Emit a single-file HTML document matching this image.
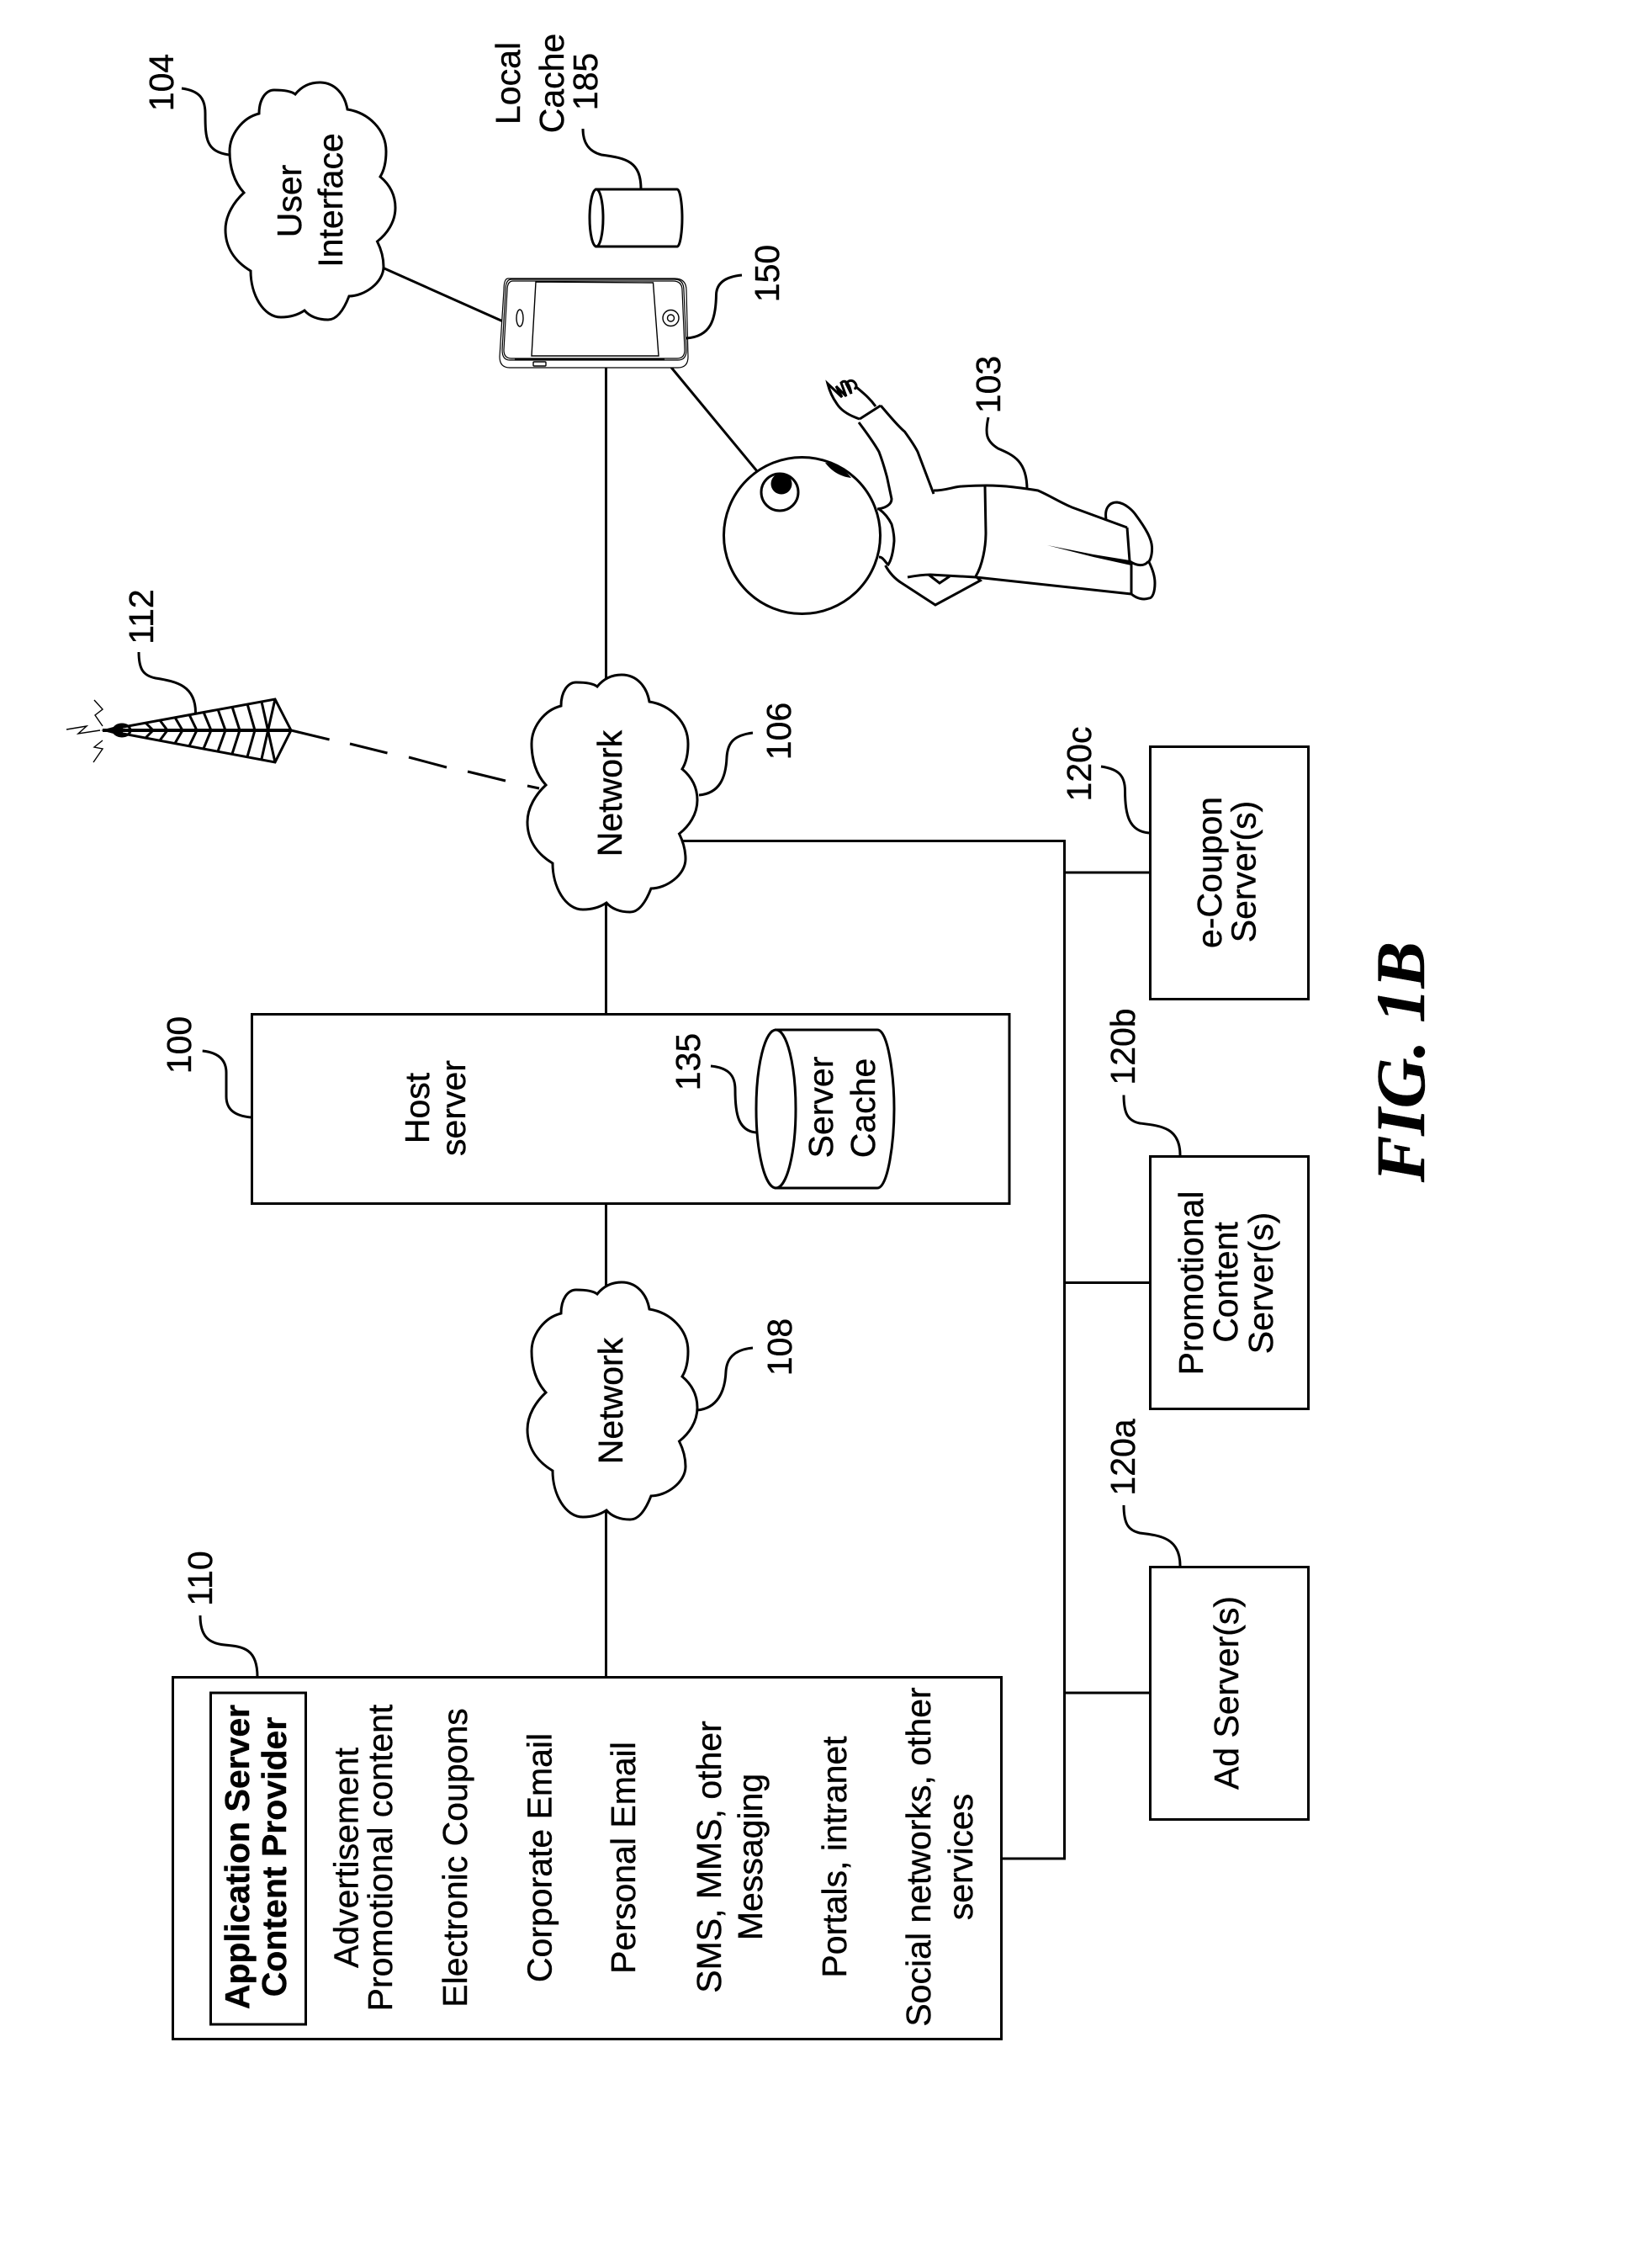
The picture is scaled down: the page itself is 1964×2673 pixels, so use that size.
<!DOCTYPE html>
<html>
<head>
<meta charset="utf-8">
<title>FIG. 1B</title>
<style>
html,body{margin:0;padding:0;background:#fff;}
svg{display:block;}
text{font-family:"Liberation Sans",sans-serif;font-size:41px;fill:#000;stroke:#000;stroke-width:0.4;text-anchor:middle;}
.b{font-weight:bold;}
.fig{font-family:"Liberation Serif",serif;font-weight:bold;font-style:italic;font-size:83px;}
.l{fill:none;stroke:#000;stroke-width:3;}
.w{fill:#fff;stroke:#000;stroke-width:3;}
.t{fill:none;stroke:#000;stroke-width:1.4;}
</style>
</head>
<body>
<svg xmlns="http://www.w3.org/2000/svg" width="1964" height="2673" viewBox="0 0 1964 2673">
<rect width="1964" height="2673" fill="#fff"/>
<defs>
<path id="cloud" d="M83,14 C92,3 102,0 112,0 C130,0 142,14 145,32 C170,36 191,56 191,82 C191,94 189,104 184,112 C196,122 202,135 202,149 C202,166 192,180 180.5,189 C186,200 188,210 188,219 C188,238 165,254 147,254 C140,272 132,282 122,282 C110,282 100,278 94,271 C85,277 76,279 66,279 C45,279 30,252 30,224 C10,212 0,195 0,175 C0,158 10,142 22,131 C10,118 5,100 5,82 C5,62 20,42 40,37 C40,20 48,9 58,9 C68,9 78,10 83,14 Z"/>
</defs>

<!-- main connectors -->
<line class="l" x1="720.5" y1="437" x2="720.5" y2="1993"/>
<path class="l" d="M810,999.5 H1265.5 V2209 H1190"/>
<line class="l" x1="1265" y1="1037" x2="1367" y2="1037"/>
<line class="l" x1="1265" y1="1524.5" x2="1367" y2="1524.5"/>
<line class="l" x1="1265" y1="2012" x2="1367" y2="2012"/>
<line class="l" x1="454.6" y1="318" x2="598" y2="382"/>
<line class="l" x1="790" y1="427" x2="900" y2="560"/>

<!-- clouds -->
<use href="#cloud" x="268" y="98" class="w"/>
<use href="#cloud" x="627" y="802" class="w"/>
<use href="#cloud" x="627" y="1524" class="w"/>

<!-- dashed link tower to network -->
<line class="l" x1="346" y1="868" x2="391.6" y2="879"/>
<line class="l" x1="416" y1="884" x2="460.5" y2="895"/>
<line class="l" x1="486" y1="900" x2="531" y2="912"/>
<line class="l" x1="556" y1="917" x2="601" y2="928"/>
<line class="l" x1="627" y1="934" x2="641" y2="937"/>

<!-- boxes -->
<rect class="w" x="205.5" y="1993.5" width="985" height="430"/>
<rect class="w" x="250.5" y="2012" width="113" height="394"/>
<rect class="w" x="299.5" y="1205.5" width="900.5" height="225"/>
<rect class="w" x="1367.5" y="887.5" width="188" height="300"/>
<rect class="w" x="1367.5" y="1374.5" width="188" height="300"/>
<rect class="w" x="1367.5" y="1862.5" width="188" height="300"/>

<!-- server cache cylinder -->
<path class="w" d="M922.5,1224 H1043 C1056,1224 1063,1280 1063,1318 C1063,1356 1056,1412 1043,1412 H922.5 Z"/>
<ellipse class="w" cx="922.5" cy="1318" rx="23.5" ry="94"/>

<!-- local cache cylinder -->
<path class="w" d="M709,225 H805 C809,225 811,245 811,259 C811,273 809,293 805,293 H709 Z"/>
<ellipse class="w" cx="709" cy="259" rx="8" ry="34"/>

<!-- phone -->
<path fill="#fff" stroke="#000" stroke-width="1.2" d="M604,331 H802 Q816,331 816,345 L818,424 Q818,437 806,437 H606 Q594,437 594,424 L599,345 Q599,331 604,331 Z"/>
<path fill="#fff" stroke="#000" stroke-width="1.2" d="M608,332 H802 Q813,332 813,345 L816,416 Q816,428 806,428 H606 Q597,428 597,416 L601,345 Q601,332 608,332 Z"/>
<path fill="none" stroke="#000" stroke-width="1.2" d="M610,334 H800 Q811,334 811,345 L814,416 Q814,426 805,426 H608 Q599,426 599,416 L603,345 Q603,334 610,334 Z"/>
<line x1="612" y1="427" x2="790" y2="427" stroke="#000" stroke-width="2"/>
<path class="t" d="M637,335 L776.5,336 L783,423 L632,423 Z"/>
<ellipse class="t" cx="618" cy="378" rx="4" ry="10"/>
<circle class="t" cx="797.5" cy="378" r="9.5"/>
<circle class="t" cx="797.5" cy="378" r="4"/>
<rect class="t" x="634" y="430" width="15" height="5" rx="1"/>

<!-- person -->
<circle class="w" cx="953.5" cy="636.5" r="93"/>
<circle class="l" cx="927" cy="585" r="22"/>
<ellipse cx="929" cy="575" rx="12.5" ry="12.5" fill="#000"/>
<path fill="#000" d="M981,550 C990,562 1002,567 1012,568 C1005,558 990,550 981,550 Z"/>
<path class="l" d="M1047,482 C1060,497 1068,507 1075.5,513 C1082,522 1087,529 1091,537 L1110,587"/>
<path class="l" d="M1110,583 C1125,583 1135,578 1144,578 C1160,577 1172,577 1173,577 C1195,577 1215,580 1234,583 C1248,589 1260,597 1274.5,603 L1340,627"/>
<path class="l" d="M1021,502 C1033,518 1040,528 1045,537 C1050,550 1052,558 1054.5,567 L1060,593 C1060,600 1052,604 1043,605"/>
<path class="l" d="M1045,605 C1052,610 1057,617 1060,623 C1062,630 1063,636 1063,643 C1062,655 1060,665 1056,671 C1052,668 1050,662 1045,662"/>
<path class="l" d="M1052.6,672 C1058,682 1064,688 1072,693 L1112,719 L1165.5,690 L1160,685"/>
<path class="l" d="M1079,686 C1090,684 1098,683 1106,683 L1160,686 L1345,706"/>
<path class="l" stroke-width="2" d="M1104,683 L1117,693 L1129,685"/>
<path class="l" d="M1171,578 L1172,633 C1172,650 1168,672 1160,685"/>
<path class="l" d="M1340,627 L1343,667 M1345,670 L1345,706"/>
<path fill="#000" d="M1245,648 L1300,659 L1343,666 L1343,668 L1345,670 L1345,672 L1300,662 Z"/>
<path class="l" d="M1315,617 C1313,605 1318,597 1328,597 C1338,598 1347,607 1351,613 C1362,628 1369,640 1369.5,650 C1370,660 1367,668 1364.5,668 C1360,673 1352,673 1343,667"/>
<path class="l" d="M1366,668 C1370,676 1373,685 1373,693 C1373,704 1370,711 1366,711 C1360,713 1352,712 1345,706"/>
<path class="l" d="M1022,498 L1047,482" />
<path class="l" d="M1022,498 C1010,494 1000,488 995,480 C990,473 986,464 984,456 L1001,472 L994,459 L1006,471 L1000,455 C1005,450 1010,456 1012,468 L1006,456 C1010,450 1016,452 1018,458 C1018,462 1015,463 1018,460 C1026,467 1034,473 1041,483"/>

<!-- tower -->
<path class="l" d="M125,868 L327,831 L346,868 L327,906 Z"/>
<line x1="122" y1="868" x2="346" y2="868" stroke="#000" stroke-width="4"/>
<path class="l" stroke-width="2.4" d="M173,859 L182,868 L173,877 M190,856 L199,868 L190,880 M208,852.6 L217,868 L208,883.4 M225,849.4 L234,868 L225,886.6 M242,846.3 L251,868 L242,889.7 M259,843 L268,868 L259,893 M276,840 L285,868 L276,896 M294,836.6 L303,868 L294,899.4"/>
<path class="l" stroke-width="2.4" d="M311,834 L327,906 M327,831 L311,902"/>
<ellipse class="l" cx="145" cy="868" rx="10" ry="7"/>
<path d="M120,868 L146,861 L146,875 Z" fill="#000"/>
<path class="t" d="M112,832 L122,843 L113,850 L122,863 M79,867 L103,863 L93,872 L119,868 M122,880 L112,888 L122,890 L111,906"/>

<!-- leaders -->
<path class="l" d="M216,105 C238,108 244,118 244,135 C244,165 245,180 272,184"/>
<path class="l" d="M693,153 C693,170 700,180 715,184 C745,188 762,192 762,225"/>
<path class="l" d="M882,327 C860,329 852,338 851.5,350 C851,380 845,400 816,402"/>
<path class="l" d="M1175,496 C1171,515 1172,524 1186.5,533 C1205,541 1221,548 1221,582"/>
<path class="l" d="M165,775 C165,795 170,803 185,806 C210,810 232.5,815 232.5,847"/>
<path class="l" d="M895,871 C870,874 865,885 864,900 C863,925 855,943 831,945"/>
<path class="l" d="M895,1602 C872,1604 864,1615 863,1630 C862,1655 852,1674 829,1676"/>
<path class="l" d="M240.7,1249 C260,1251 269,1260 269,1275 V1303 C269,1318 278,1326 298,1328"/>
<path class="l" d="M845,1267 C866,1269 874,1278 874,1295 C874,1325 878,1344 899,1346"/>
<path class="l" d="M238,1920 C238,1945 248,1953 267,1955 C290,1957 306,1960 306,1993"/>
<path class="l" d="M1309,911 C1330,914 1337.5,922 1337.5,940 C1337.5,968 1342,988 1366,990"/>
<path class="l" d="M1336,1301.5 C1336,1322 1340,1332 1355,1335 C1380,1338 1403,1340 1403,1373"/>
<path class="l" d="M1336,1789 C1336,1812 1342,1819 1355,1822 C1380,1825 1403,1828 1403,1861"/>

<!-- labels -->
<text class="b" transform="translate(296,2207) rotate(-90)">Application Server</text>
<text class="b" transform="translate(340,2207) rotate(-90)">Content Provider</text>
<text transform="translate(425.5,2208) rotate(-90)">Advertisement</text>
<text transform="translate(466,2208) rotate(-90)">Promotional content</text>
<text transform="translate(555,2208) rotate(-90)">Electronic Coupons</text>
<text transform="translate(655.5,2208) rotate(-90)">Corporate Email</text>
<text transform="translate(755,2208) rotate(-90)">Personal Email</text>
<text transform="translate(857,2207) rotate(-90)">SMS, MMS, other</text>
<text transform="translate(906,2207) rotate(-90)">Messaging</text>
<text transform="translate(1006,2207) rotate(-90)">Portals, intranet</text>
<text transform="translate(1106,2207) rotate(-90)">Social networks, other</text>
<text transform="translate(1156,2207) rotate(-90)">services</text>

<text transform="translate(510,1317) rotate(-90)">Host</text>
<text transform="translate(553,1317) rotate(-90)">server</text>
<text transform="translate(990,1316) rotate(-90)">Server</text>
<text transform="translate(1040,1317) rotate(-90)">Cache</text>

<text transform="translate(739,943) rotate(-90)">Network</text>
<text transform="translate(740,1665) rotate(-90)">Network</text>
<text transform="translate(358,239) rotate(-90)">User</text>
<text transform="translate(407,238) rotate(-90)">Interface</text>
<text transform="translate(618,99) rotate(-90)">Local</text>
<text transform="translate(670,99) rotate(-90)">Cache</text>
<text transform="translate(710,97) rotate(-90)">185</text>

<text transform="translate(206,98) rotate(-90)">104</text>
<text transform="translate(926,325) rotate(-90)">150</text>
<text transform="translate(1189,457) rotate(-90)">103</text>
<text transform="translate(182,733) rotate(-90)">112</text>
<text transform="translate(940,869) rotate(-90)">106</text>
<text transform="translate(941,1601) rotate(-90)">108</text>
<text transform="translate(227,1242) rotate(-90)">100</text>
<text transform="translate(832,1262) rotate(-90)">135</text>
<text transform="translate(252,1876) rotate(-90)">110</text>
<text transform="translate(1297,908) rotate(-90)">120c</text>
<text transform="translate(1349,1244) rotate(-90)">120b</text>
<text transform="translate(1349,1732) rotate(-90)">120a</text>

<text transform="translate(1452,1037) rotate(-90)">e-Coupon</text>
<text transform="translate(1492.5,1036) rotate(-90)">Server(s)</text>
<text transform="translate(1430,1525) rotate(-90)">Promotional</text>
<text transform="translate(1471,1524) rotate(-90)">Content</text>
<text transform="translate(1513,1525) rotate(-90)">Server(s)</text>
<text transform="translate(1472,2012) rotate(-90)">Ad Server(s)</text>

<text class="fig" transform="translate(1693,1262) rotate(-90)">FIG. 1B</text>
</svg>
</body>
</html>
